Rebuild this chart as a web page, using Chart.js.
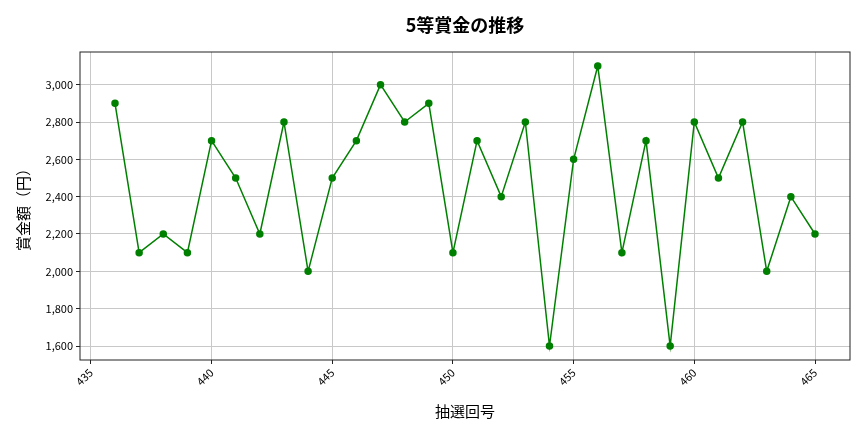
<!DOCTYPE html>
<html>
<head>
<meta charset="utf-8">
<script src="https://cdn.jsdelivr.net/npm/chart.js@4/dist/chart.umd.min.js"></script>
<style>
  body{margin:0;background:#fff;}
  #wrap{width:864px;height:432px;}
</style>
</head>
<body>
<div id="wrap"><canvas id="myChart" width="864" height="432"></canvas></div>
<script>
// 抽選回号 and 5等賞金 (円)
const rounds=[436,437,438,439,440,441,442,443,444,445,446,447,448,449,450,451,452,453,454,455,456,457,458,459,460,461,462,463,464,465];
const prizes=[2900,2100,2200,2100,2700,2500,2200,2800,2000,2500,2700,3000,2800,2900,2100,2700,2400,2800,1600,2600,3100,2100,2700,1600,2800,2500,2800,2000,2400,2200];
const xTicks=[435,440,445,450,455,460,465];
const yTicks=[1600,1800,2000,2200,2400,2600,2800,3000];
const titleText='5等賞金の推移';

const FONT="'Noto Sans CJK JP','Noto Sans',sans-serif";
Chart.defaults.font.family=FONT;
Chart.defaults.color='#000';

// frame round the plot area like matplotlib spines, and the title centred over the plot
const frame={
  id:'frame',
  afterDraw(chart){
    const {ctx,chartArea:a}=chart;
    ctx.save();
    ctx.strokeStyle='#222';
    ctx.lineWidth=1;
    ctx.strokeRect(a.left,a.top,a.right-a.left,a.bottom-a.top);
    ctx.fillStyle='#000';
    ctx.font="bold 18px "+FONT;
    ctx.textAlign='center';
    ctx.textBaseline='middle';
    ctx.fillText(titleText,(a.left+a.right)/2,25);
    ctx.restore();
  }
};

const pts=rounds.map((r,i)=>({x:r,y:prizes[i]}));
const span=rounds[rounds.length-1]-rounds[0];
const xMin=rounds[0]-span*0.05;
const xMax=rounds[rounds.length-1]+span*0.05;
const pMin=Math.min(...prizes),pMax=Math.max(...prizes);
const yMin=pMin-(pMax-pMin)*0.05;
const yMax=pMax+(pMax-pMin)*0.05;

const ctx=document.getElementById('myChart').getContext('2d');
const myChart=new Chart(ctx,{
  type:'line',
  data:{datasets:[{
    data:pts,
    borderColor:'#008000',
    backgroundColor:'#008000',
    borderWidth:1.5,
    pointRadius:3,
    pointHoverRadius:3,
    tension:0,
    fill:false
  }]},
  options:{
    responsive:false,
    animation:false,
    devicePixelRatio:1,
    layout:{padding:{left:14,right:14,top:52,bottom:12}},
    plugins:{
      legend:{display:false},
      tooltip:{enabled:false},
      title:{display:false}
    },
    scales:{
      x:{
        type:'linear',
        min:xMin,max:xMax,
        afterBuildTicks:ax=>{ax.ticks=xTicks.map(v=>({value:v}));},
        afterFit:ax=>{ax.height=60;},
        ticks:{
          maxRotation:45,minRotation:45,
          font:{size:11},
          padding:2,
          callback:v=>String(v)
        },
        grid:{color:'#c8c8c8',tickLength:4,tickColor:'#222',drawTicks:true},
        border:{display:false},
        title:{display:true,text:'抽選回号',font:{size:15},padding:{top:0,bottom:0}}
      },
      y:{
        min:yMin,max:yMax,
        afterBuildTicks:ax=>{ax.ticks=yTicks.map(v=>({value:v}));},
        afterFit:ax=>{ax.width=66;},
        ticks:{
          font:{size:11},
          padding:3,
          callback:v=>v.toLocaleString('en-US')
        },
        grid:{color:'#c8c8c8',tickLength:4,tickColor:'#222',drawTicks:true},
        border:{display:false},
        title:{display:true,text:'賞金額（円）',font:{size:15},padding:{top:0,bottom:4}}
      }
    }
  },
  plugins:[frame]
});
</script>
</body>
</html>
